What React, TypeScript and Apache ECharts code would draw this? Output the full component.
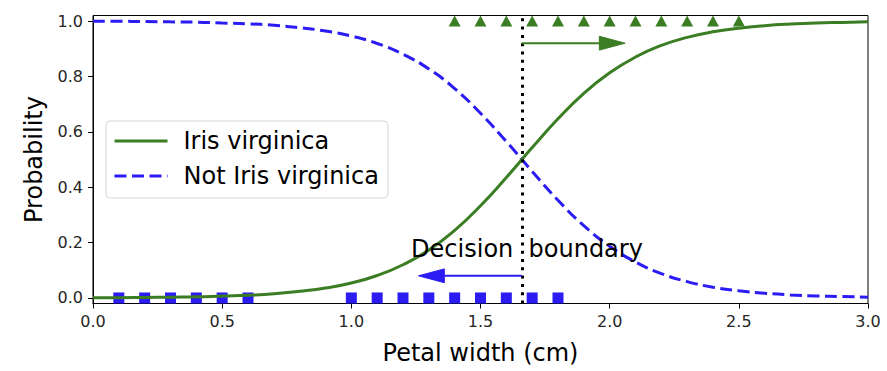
import React, { useEffect, useRef } from "react";
import * as echarts from "echarts";

// ---- data ----
const petalWidthGrid = [
  0.0, 0.1, 0.2, 0.3, 0.4, 0.5, 0.6, 0.7, 0.8, 0.9, 1.0, 1.1, 1.2, 1.3, 1.4, 1.5,
  1.6, 1.7, 1.8, 1.9, 2.0, 2.1, 2.2, 2.3, 2.4, 2.5, 2.6, 2.7, 2.8, 2.9, 3.0,
];
const probVirginica = [
  0.001, 0.001, 0.002, 0.003, 0.004, 0.007, 0.01, 0.015, 0.024, 0.036, 0.054, 0.081,
  0.12, 0.173, 0.244, 0.333, 0.435, 0.543, 0.647, 0.739, 0.813, 0.87, 0.912, 0.941,
  0.961, 0.974, 0.983, 0.989, 0.993, 0.995, 0.997,
];
const probNotVirginica = [
  0.999, 0.999, 0.998, 0.997, 0.996, 0.993, 0.99, 0.985, 0.976, 0.964, 0.946, 0.919,
  0.88, 0.827, 0.756, 0.667, 0.565, 0.457, 0.353, 0.261, 0.187, 0.13, 0.088, 0.059,
  0.039, 0.026, 0.017, 0.011, 0.007, 0.005, 0.003,
];
const notVirginicaWidths = [0.1, 0.2, 0.3, 0.4, 0.5, 0.6, 1.0, 1.1, 1.2, 1.3, 1.4, 1.5, 1.6, 1.7, 1.8];
const notVirginicaLabel = 0;
const virginicaWidths = [1.4, 1.5, 1.6, 1.7, 1.8, 1.9, 2.0, 2.1, 2.2, 2.3, 2.4, 2.5];
const virginicaLabel = 1;
const decisionBoundary = 1.66;
// arrows: [startX, y, dx, headLength, headWidth]
const greenArrow = [decisionBoundary, 0.92, 0.3, 0.1, 0.05];
const blueArrow = [decisionBoundary, 0.08, -0.3, 0.1, 0.05];
const boundaryText = "Decision  boundary";
const boundaryTextPos = [decisionBoundary + 0.02, 0.15];
const yTicks = [0, 0.2, 0.4, 0.6, 0.8, 1.0];
const seriesNames = ["Iris virginica", "Not Iris virginica"];

const GREEN = "#3b7d22";
const BLUE = "#2b1cf3";
const FONT = "DejaVu Sans";

export default function App() {
  const ref = useRef<HTMLDivElement>(null);
  useEffect(() => {
    if (!ref.current) return;
    const chart = echarts.init(ref.current, undefined, { renderer: "svg" });
    const option: any = {
      animation: false,
      textStyle: { fontFamily: FONT },
      grid: {
        left: 93,
        right: 19,
        top: 15.5,
        bottom: 67.5,
        show: true,
        borderColor: "#000",
        borderWidth: 1,
        backgroundColor: "transparent",
        outerBoundsMode: "none",
      },
      legend: {
        data: seriesNames,
        orient: "vertical",
        left: 106,
        top: 121,
        itemWidth: 53,
        itemHeight: 14,
        itemGap: 11,
        padding: [8, 9, 10, 7],
        borderColor: "#d5d5d5",
        borderWidth: 1,
        borderRadius: 4,
        backgroundColor: "rgba(255,255,255,0.8)",
        itemStyle: { opacity: 0 },
        lineStyle: { width: 3 },
        textStyle: { fontFamily: FONT, fontSize: 24, color: "#000", padding: [0, 0, 0, 11] },
      },
      xAxis: {
        type: "value",
        min: 0,
        max: 3,
        interval: 0.5,
        name: "Petal width (cm)",
        nameLocation: "middle",
        nameGap: 37,
        nameTextStyle: { fontFamily: FONT, fontSize: 24, color: "#000" },
        axisLine: { show: true, onZero: false, lineStyle: { color: "#000", width: 1 } },
        axisTick: { show: true, length: 5, lineStyle: { color: "#000", width: 1 } },
        axisLabel: {
          fontFamily: FONT,
          fontSize: 16,
          color: "#262626",
          margin: 10,
          formatter: (v: number) => v.toFixed(1),
        },
        splitLine: { show: false },
      },
      yAxis: {
        type: "value",
        min: -0.02,
        max: 1.02,
        name: "Probability",
        nameLocation: "middle",
        nameGap: 47,
        nameTextStyle: { fontFamily: FONT, fontSize: 24, color: "#000" },
        axisLine: { show: true, onZero: false, lineStyle: { color: "#000", width: 1 } },
        axisTick: { show: true, length: 5, customValues: yTicks, lineStyle: { color: "#000", width: 1 } },
        axisLabel: {
          fontFamily: FONT,
          fontSize: 16,
          color: "#262626",
          margin: 10,
          customValues: yTicks,
          formatter: (v: number) => v.toFixed(1),
        },
        splitLine: { show: false },
      },
      series: [
        {
          type: "scatter",
          name: "negatives",
          data: notVirginicaWidths.map((w) => [w, notVirginicaLabel]),
          symbol: "rect",
          symbolSize: 11,
          itemStyle: { color: BLUE, opacity: 1 },
          clip: false,
          z: 2,
        },
        {
          type: "scatter",
          name: "positives",
          data: virginicaWidths.map((w) => [w, virginicaLabel]),
          symbol: "triangle",
          symbolSize: [12, 11],
          itemStyle: { color: GREEN, opacity: 1 },
          clip: false,
          z: 2,
        },
        {
          type: "line",
          name: seriesNames[1],
          data: petalWidthGrid.map((x, i) => [x, probNotVirginica[i]]),
          smooth: true,
          showSymbol: false,
          symbol: "none",
          lineStyle: { color: BLUE, width: 3, type: [12, 5.5] },
          itemStyle: { color: BLUE },
          z: 3,
        },
        {
          type: "line",
          name: seriesNames[0],
          data: petalWidthGrid.map((x, i) => [x, probVirginica[i]]),
          smooth: true,
          showSymbol: false,
          symbol: "none",
          lineStyle: { color: GREEN, width: 3 },
          itemStyle: { color: GREEN },
          z: 4,
          markLine: {
            silent: true,
            symbol: "none",
            label: { show: false },
            lineStyle: { color: "#000", width: 3, type: [3, 5.3] },
            data: [{ xAxis: decisionBoundary }],
          },
        },
        {
          type: "custom",
          name: "arrows",
          encode: { x: 0, y: 1 },
          clip: false,
          z: 5,
          data: [
            { value: greenArrow, itemStyle: { color: GREEN } },
            { value: blueArrow, itemStyle: { color: BLUE } },
          ],
          renderItem: (params: any, api: any) => {
            const x0 = api.value(0);
            const y0 = api.value(1);
            const dx = api.value(2);
            const hl = api.value(3);
            const hw = api.value(4);
            const dir = dx >= 0 ? 1 : -1;
            const s = api.coord([x0, y0]);
            const e = api.coord([x0 + dx, y0]);
            const tip = api.coord([x0 + dx + dir * hl, y0]);
            const up = api.coord([x0 + dx, y0 + hw / 2]);
            const dn = api.coord([x0 + dx, y0 - hw / 2]);
            const color = api.visual("color");
            return {
              type: "group",
              children: [
                { type: "line", shape: { x1: s[0], y1: s[1], x2: e[0], y2: e[1] }, style: { stroke: color, lineWidth: 2 } },
                { type: "polygon", shape: { points: [tip, up, dn] }, style: { fill: color, stroke: color, lineWidth: 1 } },
              ],
            };
          },
        },
        {
          type: "custom",
          name: "boundaryText",
          encode: { x: 0, y: 1 },
          clip: false,
          z: 6,
          data: [boundaryTextPos],
          renderItem: (params: any, api: any) => {
            const p = api.coord([api.value(0), api.value(1)]);
            return {
              type: "text",
              x: p[0],
              y: p[1] + 5,
              style: {
                text: boundaryText,
                fontFamily: FONT,
                fontSize: 24,
                fill: "#000",
                align: "center",
                verticalAlign: "bottom",
              },
            };
          },
        },
      ],
    };
    chart.setOption(option);
    return () => chart.dispose();
  }, []);
  return (
    <div
      ref={ref}
      style={{ position: "fixed", left: 0, top: 0, width: 887, height: 371, background: "#fff" }}
    />
  );
}
